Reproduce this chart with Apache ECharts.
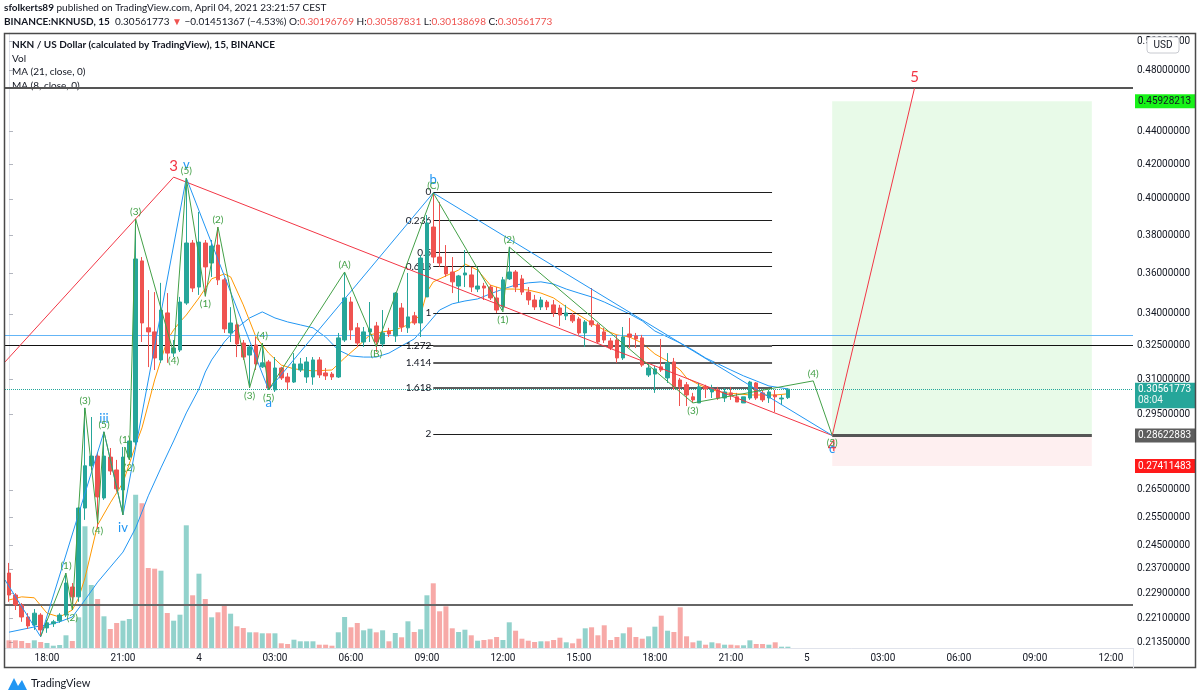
<!DOCTYPE html>
<html><head><meta charset="utf-8">
<script src="https://cdn.jsdelivr.net/npm/echarts@6/dist/echarts.min.js"></script>
<style>html,body{margin:0;padding:0;background:#fff;}#c{width:1200px;height:697px;}</style>
</head><body><div id="c"></div>
<script>
// ---------- DATA ----------
// 15-minute bars from 3 Apr 16:30 (index 0) to 4 Apr 23:15 (index 123): [open, close, low, high]
const candles = [
[0.2356,0.2284,0.2262,0.2390],[0.2284,0.2252,0.2236,0.2290],[0.2252,0.2214,0.2199,0.2258],[0.2214,0.2186,0.2177,0.2226],
[0.2189,0.2226,0.2174,0.2239],[0.2220,0.2174,0.2153,0.2226],[0.2180,0.2196,0.2165,0.2205],[0.2193,0.2199,0.2183,0.2205],
[0.2202,0.2220,0.2196,0.2226],[0.2220,0.2323,0.2214,0.2356],[0.2310,0.2278,0.2236,0.2323],[0.2278,0.2583,0.2262,0.2587],
[0.2583,0.2742,0.2540,0.2976],[0.2742,0.2780,0.2726,0.2938],[0.2780,0.2624,0.2511,0.2796],[0.2620,0.2780,0.2613,0.2877],
[0.2776,0.2722,0.2707,0.2812],[0.2726,0.2654,0.2643,0.2765],[0.2650,0.2776,0.2558,0.2816],[0.2776,0.2840,0.2765,0.2852],
[0.2836,0.3674,0.2824,0.3888],[0.3664,0.3356,0.3267,0.3684],[0.3333,0.3314,0.3153,0.3516],[0.3314,0.3194,0.3140,0.3506],
[0.3185,0.3418,0.3172,0.3552],[0.3404,0.3216,0.3172,0.3501],[0.3216,0.3239,0.3198,0.3276],[0.3230,0.3457,0.3221,0.3482],
[0.3452,0.3758,0.3443,0.4120],[0.3758,0.3526,0.3506,0.3774],[0.3531,0.3763,0.3492,0.3927],[0.3758,0.3633,0.3485,0.3774],
[0.3653,0.3742,0.3582,0.3774],[0.3747,0.3567,0.3541,0.3844],[0.3567,0.3328,0.3309,0.3577],[0.3309,0.3356,0.3267,0.3432],
[0.3347,0.3258,0.3198,0.3361],[0.3262,0.3198,0.3185,0.3276],[0.3207,0.3244,0.3062,0.3253],[0.3253,0.3167,0.3140,0.3290],
[0.3154,0.3172,0.3149,0.3262],[0.3176,0.3061,0.3053,0.3185],[0.3053,0.3149,0.3044,0.3198],[0.3149,0.3105,0.3096,0.3154],
[0.3109,0.3087,0.3053,0.3127],[0.3087,0.3167,0.3083,0.3216],[0.3140,0.3167,0.3131,0.3194],[0.3109,0.3176,0.3083,0.3198],
[0.3109,0.3185,0.3075,0.3198],[0.3185,0.3118,0.3105,0.3198],[0.3127,0.3114,0.3096,0.3149],[0.3122,0.3109,0.3096,0.3131],
[0.3109,0.3286,0.3105,0.3309],[0.3276,0.3477,0.3267,0.3607],[0.3457,0.3323,0.3276,0.3482],[0.3333,0.3262,0.3244,0.3356],
[0.3267,0.3314,0.3244,0.3337],[0.3314,0.3328,0.3267,0.3457],[0.3342,0.3267,0.3221,0.3361],[0.3258,0.3309,0.3244,0.3418],
[0.3318,0.3304,0.3290,0.3333],[0.3295,0.3501,0.3267,0.3506],[0.3428,0.3337,0.3314,0.3452],[0.3333,0.3385,0.3309,0.3602],
[0.3390,0.3356,0.3347,0.3409],[0.3356,0.3679,0.3290,0.3695],[0.3482,0.3866,0.3482,0.3910],[0.3844,0.3684,0.3653,0.4034],
[0.3684,0.3653,0.3633,0.3983],[0.3633,0.3597,0.3582,0.3747],[0.3607,0.3557,0.3501,0.3684],[0.3536,0.3587,0.3457,0.3592],
[0.3592,0.3602,0.3531,0.3721],[0.3592,0.3531,0.3506,0.3633],[0.3521,0.3536,0.3506,0.3633],[0.3536,0.3526,0.3467,0.3552],
[0.3531,0.3477,0.3467,0.3541],[0.3477,0.3418,0.3404,0.3531],[0.3433,0.3567,0.3418,0.3582],[0.3572,0.3607,0.3567,0.3737],
[0.3607,0.3531,0.3506,0.3617],[0.3572,0.3506,0.3492,0.3592],[0.3506,0.3467,0.3443,0.3531],[0.3467,0.3433,0.3418,0.3492],
[0.3433,0.3467,0.3418,0.3482],[0.3457,0.3433,0.3418,0.3467],[0.3443,0.3404,0.3385,0.3467],[0.3428,0.3394,0.3342,0.3443],
[0.3390,0.3404,0.3370,0.3443],[0.3394,0.3366,0.3356,0.3404],[0.3375,0.3309,0.3300,0.3385],[0.3309,0.3361,0.3244,0.3370],
[0.3366,0.3347,0.3337,0.3526],[0.3347,0.3267,0.3262,0.3356],[0.3314,0.3276,0.3262,0.3333],[0.3272,0.3239,0.3230,0.3286],
[0.3276,0.3194,0.3172,0.3300],[0.3194,0.3290,0.3185,0.3337],[0.3304,0.3290,0.3239,0.3380],[0.3295,0.3281,0.3239,0.3309],
[0.3286,0.3162,0.3154,0.3300],[0.3118,0.3149,0.3109,0.3172],[0.3122,0.3145,0.3040,0.3158],[0.3154,0.3140,0.3131,0.3281],
[0.3105,0.3172,0.3083,0.3216],[0.3176,0.3066,0.3053,0.3194],[0.3096,0.3066,0.2984,0.3105],[0.3075,0.3031,0.2984,0.3087],
[0.3023,0.3010,0.2997,0.3040],[0.2997,0.3066,0.2997,0.3083],[0.3066,0.3057,0.3018,0.3075],[0.3044,0.3061,0.3018,0.3075],
[0.3053,0.3018,0.3010,0.3066],[0.3018,0.3044,0.3001,0.3061],[0.3040,0.3031,0.3010,0.3066],[0.3023,0.3001,0.3001,0.3040],
[0.2997,0.3023,0.2997,0.3023],[0.3018,0.3087,0.3010,0.3092],[0.3083,0.3018,0.3010,0.3087],[0.3040,0.3010,0.3001,0.3053],
[0.3018,0.3044,0.2997,0.3053],[0.3031,0.3023,0.2959,0.3053],[0.3014,0.3018,0.2988,0.3031],[0.30196769,0.30561773,0.30138698,0.30587831]
];
// volume per bar (thousands)
const volumes = [
7.7,7.7,7,5,7.7,6,5,2.3,3,12.7, 7,30.7,121.7,63,49,31.7,19,25,27.3,29,
153.3,144.7,80,79.3,77.3,35,27.3,33.3,122.7,52.7, 74.3,49,30.7,35.7,43.3,34.3,21.7,20,15.7,15.7,
14.7,14.7,14.7,4.7,4,8.3,6.7,6.7,6.7,3.3, 3.3,2.3,15.7,31,20.7,25,17.7,19.3,15.7,17.7,
6.7,15,10.7,26.7,16,18.7,52.7,64.7,36.7,41.7, 19.7,16,18.3,12.7,7.3,8,8.7,11,8,25.7,
17.3,9.3,7.3,6,6.7,6.7,8,10.3,5.7,4.7, 9.3,19.7,20.7,12.7,22.7,8,11,14.7,20.7,11,
9.3,11.7,21.3,32.3,17.3,16,40.7,11.7,5.7,7.3, 3.3,5.7,4.7,3.3,3.3,2.7,2.7,7.7,4,4,
3.3,5.7,1.3,1.3
];
// moving averages: [bar index, value]
const ma8 = [[0,0.2268],[2,0.2278],[4,0.2275],[6,0.2226],[8,0.2214],[10,0.2236],[11,0.2275],[12,0.2340],[14,0.2522],[16,0.2602],[18,0.2677],[20,0.2824],[21,0.2893],[22,0.2992],[23,0.3096],[24,0.3185],[25,0.3276],[26,0.3323],[27,0.3361],[28,0.3394],[30,0.3477],[32,0.3572],[34,0.3597],[35,0.3582],[37,0.3443],[39,0.3290],[41,0.3216],[43,0.3162],[45,0.3145],[48,0.3136],[51,0.3140],[53,0.3194],[55,0.3244],[57,0.3300],[59,0.3314],[61,0.3323],[63,0.3347],[65,0.3394],[66,0.3506],[67,0.3557],[69,0.3587],[71,0.3617],[72,0.3648],[74,0.3617],[76,0.3541],[78,0.3521],[80,0.3521],[82,0.3516],[84,0.3501],[86,0.3477],[88,0.3433],[90,0.3394],[92,0.3356],[94,0.3323],[96,0.3300],[98,0.3290],[100,0.3262],[102,0.3212],[104,0.3180],[106,0.3140],[107,0.3105],[109,0.3075],[111,0.3053],[113,0.3040],[115,0.3036],[117,0.3031],[119,0.3031],[121,0.3031],[123,0.3036]];
const ma21 = [[0,0.2167],[4,0.2183],[6,0.2189],[8,0.2199],[10,0.2214],[12,0.2268],[14,0.2326],[16,0.2376],[18,0.2427],[20,0.2511],[22,0.2628],[24,0.2734],[26,0.2840],[28,0.2955],[30,0.3057],[31,0.3131],[32,0.3185],[34,0.3267],[36,0.3333],[38,0.3380],[40,0.3409],[42,0.3380],[44,0.3361],[46,0.3347],[48,0.3333],[50,0.3290],[52,0.3230],[54,0.3203],[56,0.3198],[58,0.3198],[60,0.3216],[62,0.3249],[64,0.3281],[66,0.3347],[68,0.3418],[70,0.3448],[72,0.3462],[74,0.3472],[76,0.3497],[78,0.3521],[80,0.3541],[82,0.3552],[84,0.3557],[86,0.3546],[88,0.3521],[90,0.3501],[92,0.3482],[94,0.3457],[96,0.3428],[98,0.3399],[100,0.3366],[102,0.3318],[104,0.3290],[106,0.3262],[108,0.3230],[110,0.3194],[112,0.3167],[114,0.3140],[116,0.3114],[118,0.3092],[120,0.3070],[123,0.3057]];
// time axis
const xTickIndex = [6,18,30,42,54,66,78,90,102,114,126,138,150,162,174];
const xTickLabels = ['18:00','21:00','4','03:00','06:00','09:00','12:00','15:00','18:00','21:00','5','03:00','06:00','09:00','12:00'];
const yTickValues = [0.5,0.48,0.44,0.42,0.40,0.38,0.36,0.34,0.325,0.31,0.295,0.265,0.255,0.245,0.237,0.229,0.221,0.2135];
// Elliott wave drawings: [bar index, price, label]
const redWave = [[-0.63,0.3176,''],[26,0.4125,'3'],[130,0.28622883,'4'],[143,0.4679,'5']];
const blueWave = [[-0.63,0.2333,''],[5,0.2153,''],[15,0.2877,'iii'],[18,0.2558,'iv'],[28,0.4120,'v'],[41,0.3053,'a'],[67,0.4034,'b'],[130,0.28622883,'c']];
const greenWave = [[5,0.2153,''],[9,0.2356,'(1)'],[10,0.2236,'(2)'],[12,0.2976,'(3)'],[14,0.2528,'(4)'],[15,0.2877,'(5)'],[18,0.2558,''],[18.3,0.2816,'(1)'],[19,0.2765,'(2)'],[20,0.3888,'(3)'],[26,0.3216,'(4)'],[28,0.4120,'(5)'],[31,0.3485,'(1)'],[33,0.3844,'(2)'],[38,0.3062,'(3)'],[40,0.3262,'(4)'],[41,0.3053,'(5)'],[53,0.3607,'(A)'],[58,0.3245,'(B)'],[67,0.4034,'(C)'],[78,0.3409,'(1)'],[79,0.3737,'(2)'],[108,0.2997,'(3)'],[127,0.3092,'(4)'],[130,0.28622883,'(5)']];
// Fibonacci retracement
const fibLevels = [0,0.236,0.5,0.618,1,1.272,1.414,1.618,2];
const fibHigh = 0.4040, fibLow = 0.3404, fibFrom = 67, fibTo = 120.5;
// long position tool
const posEntry = 0.28622883, posTarget = 0.45928213, posStop = 0.27411483, posFrom = 130, posTo = 171;
// horizontal lines
const lineTop = 0.4679, line325 = 0.325, lineBlue = 0.3300, lineLow = 0.2253;
const lastPrice = 0.30561773, countdown = '08:04';

// ---------- CHART ----------
const FONT = 'Lato';
const X_MIN = -0.63, X_MAX = 177.5;
const chart = echarts.init(document.getElementById('c'));
function waveData(pts){
  return pts.map((p,k)=>{
    const nb=[pts[k-1],pts[k+1]].filter(Boolean);
    const peak=nb.every(n=>p[1]>=n[1]);
    return {value:[p[0],p[1]],label:{show:!!p[2],formatter:p[2],position:peak?'top':'bottom'}};
  });
}
function waveSeries(pts,color,fontSize,dist,z){
  return {type:'line',data:waveData(pts),symbol:'circle',symbolSize:1,showSymbol:true,z:z,
    itemStyle:{color:'rgba(0,0,0,0)'},lineStyle:{color:color,width:1},
    label:{color:color,fontSize:fontSize,distance:dist,fontFamily:FONT},emphasis:{disabled:true}};
}
function hLine(v,style,label){
  return [{coord:[X_MIN,v],lineStyle:style,label:label||{show:false}},{coord:[X_MAX,v]}];
}
const fibPrice = L => Math.exp(Math.log(fibHigh)+L*(Math.log(fibLow)-Math.log(fibHigh)));
const fibLines = fibLevels.map(L=>{
  const thick = (L>1 && L<2);
  return [{coord:[fibFrom,fibPrice(L)],lineStyle:{color:thick?'#5d5d5d':'#1e1e1e',width:thick?2:1,type:'solid'},
           label:{show:true,position:'start',formatter:String(L),color:'#131722',fontSize:10,distance:2,fontFamily:FONT}},
          {coord:[fibTo,fibPrice(L)]}];
});
function tag(v,bg,fg){
  return hLine(v,{color:'rgba(0,0,0,0)',width:0},
    {show:true,position:'end',distance:2,formatter:v.toFixed(8),backgroundColor:bg,color:fg,padding:[2,4,2,3],fontSize:10,fontFamily:'Roboto'});
}
const option = {
  animation:false,
  textStyle:{fontFamily:FONT},
  grid:{left:5,right:67,top:33,bottom:49,containLabel:false},
  xAxis:[{type:'value',min:X_MIN,max:X_MAX,splitLine:{show:false},
    axisLine:{show:true,lineStyle:{color:'#e0e3eb'}},axisTick:{show:false},
    axisLabel:{customValues:xTickIndex,formatter:v=>xTickLabels[xTickIndex.indexOf(Math.round(v))]||'',fontSize:10,color:'#131722',margin:5,fontFamily:'Roboto'}}],
  yAxis:[{type:'log',position:'right',min:0.2119,max:0.5058,splitLine:{show:false},
    axisLine:{show:true,lineStyle:{color:'#e0e3eb'}},
    axisTick:{show:true,length:4,customValues:yTickValues,lineStyle:{color:'#b2b5be'}},
    axisLabel:{customValues:yTickValues,formatter:v=>Number(v).toFixed(8),fontSize:10,color:'#131722',margin:4,fontFamily:'Roboto'}},
    {type:'value',min:0,max:615,show:false}],
  series:[
    {type:'bar',xAxisIndex:0,yAxisIndex:1,barWidth:5,z:1,
     data:volumes.map((v,i)=>({value:[i,v],itemStyle:{color:candles[i][1]>=candles[i][0]?'rgba(38,166,154,0.5)':'rgba(239,83,80,0.5)'}}))},
    {type:'line',data:ma21,symbol:'none',lineStyle:{color:'#2196f3',width:1},z:3},
    {type:'line',data:ma8,symbol:'none',lineStyle:{color:'#ff9800',width:1},z:3},
    {type:'candlestick',data:candles.map((c,i)=>[i,c[0],c[1],c[2],c[3]]),encode:{x:0,y:[1,2,3,4]},barWidth:4,z:5,
     itemStyle:{color:'#26a69a',color0:'#ef5350',borderColor:'#26a69a',borderColor0:'#ef5350',borderWidth:1},
     markArea:{silent:true,z:0,data:[
       [{coord:[posFrom,posTarget],itemStyle:{color:'rgba(76,215,80,0.13)'}},{coord:[posTo,posEntry]}],
       [{coord:[posFrom,posEntry],itemStyle:{color:'rgba(242,54,69,0.08)'}},{coord:[posTo,posStop]}]]},
     markLine:{silent:true,symbol:['none','none'],label:{show:false},data:[
       hLine(lineTop,{color:'#555',width:2,type:'solid'}),
       hLine(lineBlue,{color:'#64b5f6',width:1,type:'solid'}),
       hLine(line325,{color:'#111',width:1,type:'solid'}),
       hLine(lineLow,{color:'#666',width:2,type:'solid'}),
       hLine(lastPrice,{color:'#26a69a',width:1,type:'dotted'}),
       [{coord:[posFrom,posEntry],lineStyle:{color:'#555',width:3,type:'solid'}},{coord:[posTo,posEntry]}]
     ].concat(fibLines)}},
    waveSeries(redWave,'#f23645',15,3,6),
    waveSeries(blueWave,'#2196f3',13,6,6),
    waveSeries(greenWave,'#43a047',10,2,7),
    {type:'line',data:[[0,lastPrice]],symbol:'none',lineStyle:{width:0},clip:false,z:10,
     markLine:{silent:true,symbol:['none','none'],data:[
       tag(posTarget,'#18f318','#131722'),
       tag(posEntry,'#5d5d5d','#ffffff'),
       tag(posStop,'#ff1a1a','#ffffff'),
       hLine(lastPrice,{color:'rgba(0,0,0,0)',width:0},
        {show:true,position:'end',distance:2,formatter:'{e|}\n{a|'+lastPrice.toFixed(8)+'}\n{b|'+countdown+'}',
          rich:{e:{height:12,lineHeight:12},a:{backgroundColor:'#26a69a',color:'#fff',width:55,height:12,lineHeight:12,padding:[1,3,0,3],fontSize:10,fontFamily:'Roboto'},
                b:{backgroundColor:'#26a69a',color:'#e8f5f3',width:55,height:12,lineHeight:12,padding:[0,3,2,3],fontSize:10,fontFamily:'Roboto'}}})
     ]}}
  ],
  graphic:[
    {type:'text',x:4,y:3,style:{text:'{b|sfolkerts89} published on TradingView.com, April 04, 2021 23:21:57 CEST',font:'10px '+FONT,fill:'#131722',
      rich:{b:{fontWeight:'bold',fontSize:10,fontFamily:FONT,fill:'#131722'}}}},
    {type:'text',x:4,y:17,style:{text:'{b|BINANCE:NKNUSD, 15}  0.30561773 {r|▼} −0.01451367 (−4.53%) O:{r|0.30196769} H:{r|0.30587831} L:{r|0.30138698} C:{r|0.30561773}',font:'10px '+FONT,fill:'#131722',
      rich:{b:{fontWeight:'bold',fontSize:10,fontFamily:FONT,fill:'#131722'},r:{fontSize:10,fontFamily:FONT,fill:'#ef5350'}}}},
    {type:'text',x:12,y:40,style:{text:'NKN / US Dollar (calculated by TradingView), 15, BINANCE',font:'bold 10px '+FONT,fill:'#131722'}},
    {type:'text',x:12,y:54,style:{text:'Vol',font:'10px '+FONT,fill:'#131722'}},
    {type:'text',x:12,y:67,style:{text:'MA (21, close, 0)',font:'10px '+FONT,fill:'#131722'}},
    {type:'text',x:12,y:81,style:{text:'MA (8, close, 0)',font:'10px '+FONT,fill:'#131722'}},
    {type:'rect',shape:{x:4.5,y:33.5,width:1191,height:634},style:{fill:'none',stroke:'#4a4a4a',lineWidth:1.5},z:100},
    {type:'line',shape:{x1:1133.5,y1:648,x2:1133.5,y2:668},style:{stroke:'#e0e3eb',lineWidth:1},z:100},
    {type:'rect',shape:{x:1147,y:37,width:32,height:16,r:3},style:{fill:'#fff',stroke:'#c8cad0',lineWidth:1},z:100},
    {type:'text',x:1163,y:45,style:{text:'USD',font:'10px Roboto',fill:'#131722',align:'center',verticalAlign:'middle'},z:101},
    {type:'polygon',shape:{points:[[8,690],[14,678],[18,686],[22,680],[27,690]]},style:{fill:'#2196f3'},z:100},
    {type:'text',x:31,y:678,style:{text:'TradingView',font:'11px '+FONT,fill:'#131722'},z:100}
  ]
};
chart.setOption(option);
</script></body></html>
